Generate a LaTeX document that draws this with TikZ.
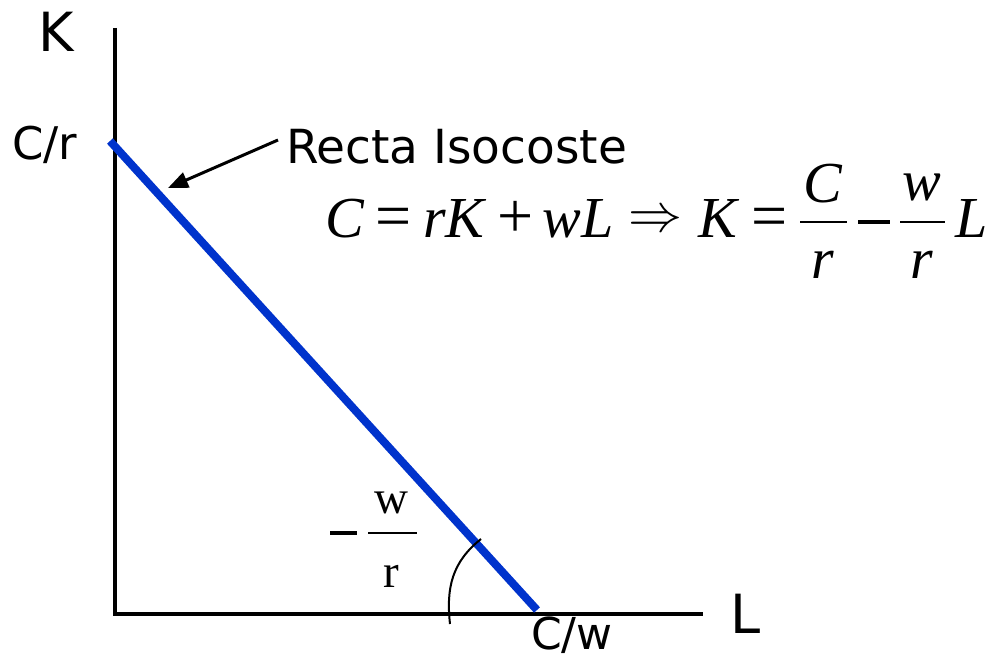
\documentclass[tikz,border=0pt]{standalone}
\usepackage{fontspec}
\setmainfont{DejaVu Sans}
\newfontfamily\eqf{Liberation Serif}
\usetikzlibrary{arrows.meta}
\definecolor{isoblue}{RGB}{0,51,204}
\tikzset{
  axis/.style={line width=3.5pt, line cap=butt},
  isoline/.style={line width=8pt, color=isoblue},
  lbl/.style={inner sep=0pt, anchor=base west, font=\fontsize{45}{54}\selectfont},
  biglbl/.style={inner sep=0pt, anchor=base west, font=\fontsize{54}{60}\selectfont},
  eq/.style={inner sep=0pt, anchor=base, font=\eqf\fontsize{58}{60}\selectfont},
  eqop/.style={inner sep=0pt, anchor=base, font=\eqf\fontsize{64}{66}\selectfont},
  eqsmall/.style={inner sep=0pt, anchor=base, font=\eqf\fontsize{47}{50}\selectfont},
  bar/.style={line width=2pt},
  thickminus/.style={line width=4pt},
}
\begin{document}
\begin{tikzpicture}[x=1pt,y=-1pt]
\useasboundingbox (0,0) rectangle (997,661);
% axes
\coordinate (ktop) at (115,28);
\coordinate (origin) at (115,614);
\coordinate (lend) at (703,614);
\draw[axis] (ktop) -- (origin |- 0,616);
\draw[axis] (113.25,614) -- (lend);
% budget line
\coordinate (cr) at (110,141);
\coordinate (cw) at (537,610);
\draw[isoline] (cr) -- (cw);
% angle arc
\coordinate (arcstart) at (450,624);
\coordinate (arcend) at (481,539);
\draw[line width=2pt] (arcstart) .. controls (446,588) and (452,562) .. (arcend);
% labels
\node[biglbl] (K) at (38,52) {K};
\node[biglbl] (L) at (730,633) {L};
\node[lbl] (Cr) at (12,160) {C/r};
\node[lbl, font=\fontsize{44}{50}\selectfont] (Cw) at (531,649) {C/w};
\node[lbl, font=\fontsize{47}{54}\selectfont] (recta) at (286,163) {Recta Isocoste};
% arrow
\coordinate (atail) at (278,140);
\coordinate (atip) at (168,188);
\draw[line width=3pt, -{Triangle[length=20pt,width=16pt]}] (atail) -- (atip);
% equation
\node[eq] (e1) at (345,237) {\itshape C};
\node[eqop] (e2) at (394,237) {=};
\node[eq] (e3) at (454,237) {\itshape rK};
\node[eqop] (e4) at (516,237) {+};
\node[eq] (e5) at (578,237) {\itshape wL};
\node[inner sep=0pt] (e6) at (655,222) {\scalebox{5.4}{$\Rightarrow$}};
\node[eq] (e7) at (718,237) {\itshape K};
\node[eqop] (e8) at (770,237) {=};
\node[eq] (n1) at (823,202) {\itshape C};
\node[eq] (d1) at (823,278) {\itshape r};
\coordinate (b1a) at (800,222); \coordinate (b1b) at (847,222);
\draw[bar] (b1a) -- (b1b);
\coordinate (m1a) at (858,222); \coordinate (m1b) at (890,222);
\draw[thickminus] (m1a) -- (m1b);
\node[eq] (n2) at (922,200) {\itshape w};
\node[eq] (d2) at (922,278) {\itshape r};
\coordinate (b2a) at (900,222); \coordinate (b2b) at (945,222);
\draw[bar] (b2a) -- (b2b);
\node[eq] (e9) at (972,237) {\itshape L};
% slope label
\coordinate (m2a) at (330,533); \coordinate (m2b) at (357,533);
\draw[thickminus] (m2a) -- (m2b);
\coordinate (b3a) at (368,533); \coordinate (b3b) at (417,533);
\draw[bar] (b3a) -- (b3b);
\node[eqsmall] (sw) at (391,513) {w};
\node[eqsmall] (sr) at (391,587) {r};
\end{tikzpicture}
\end{document}
